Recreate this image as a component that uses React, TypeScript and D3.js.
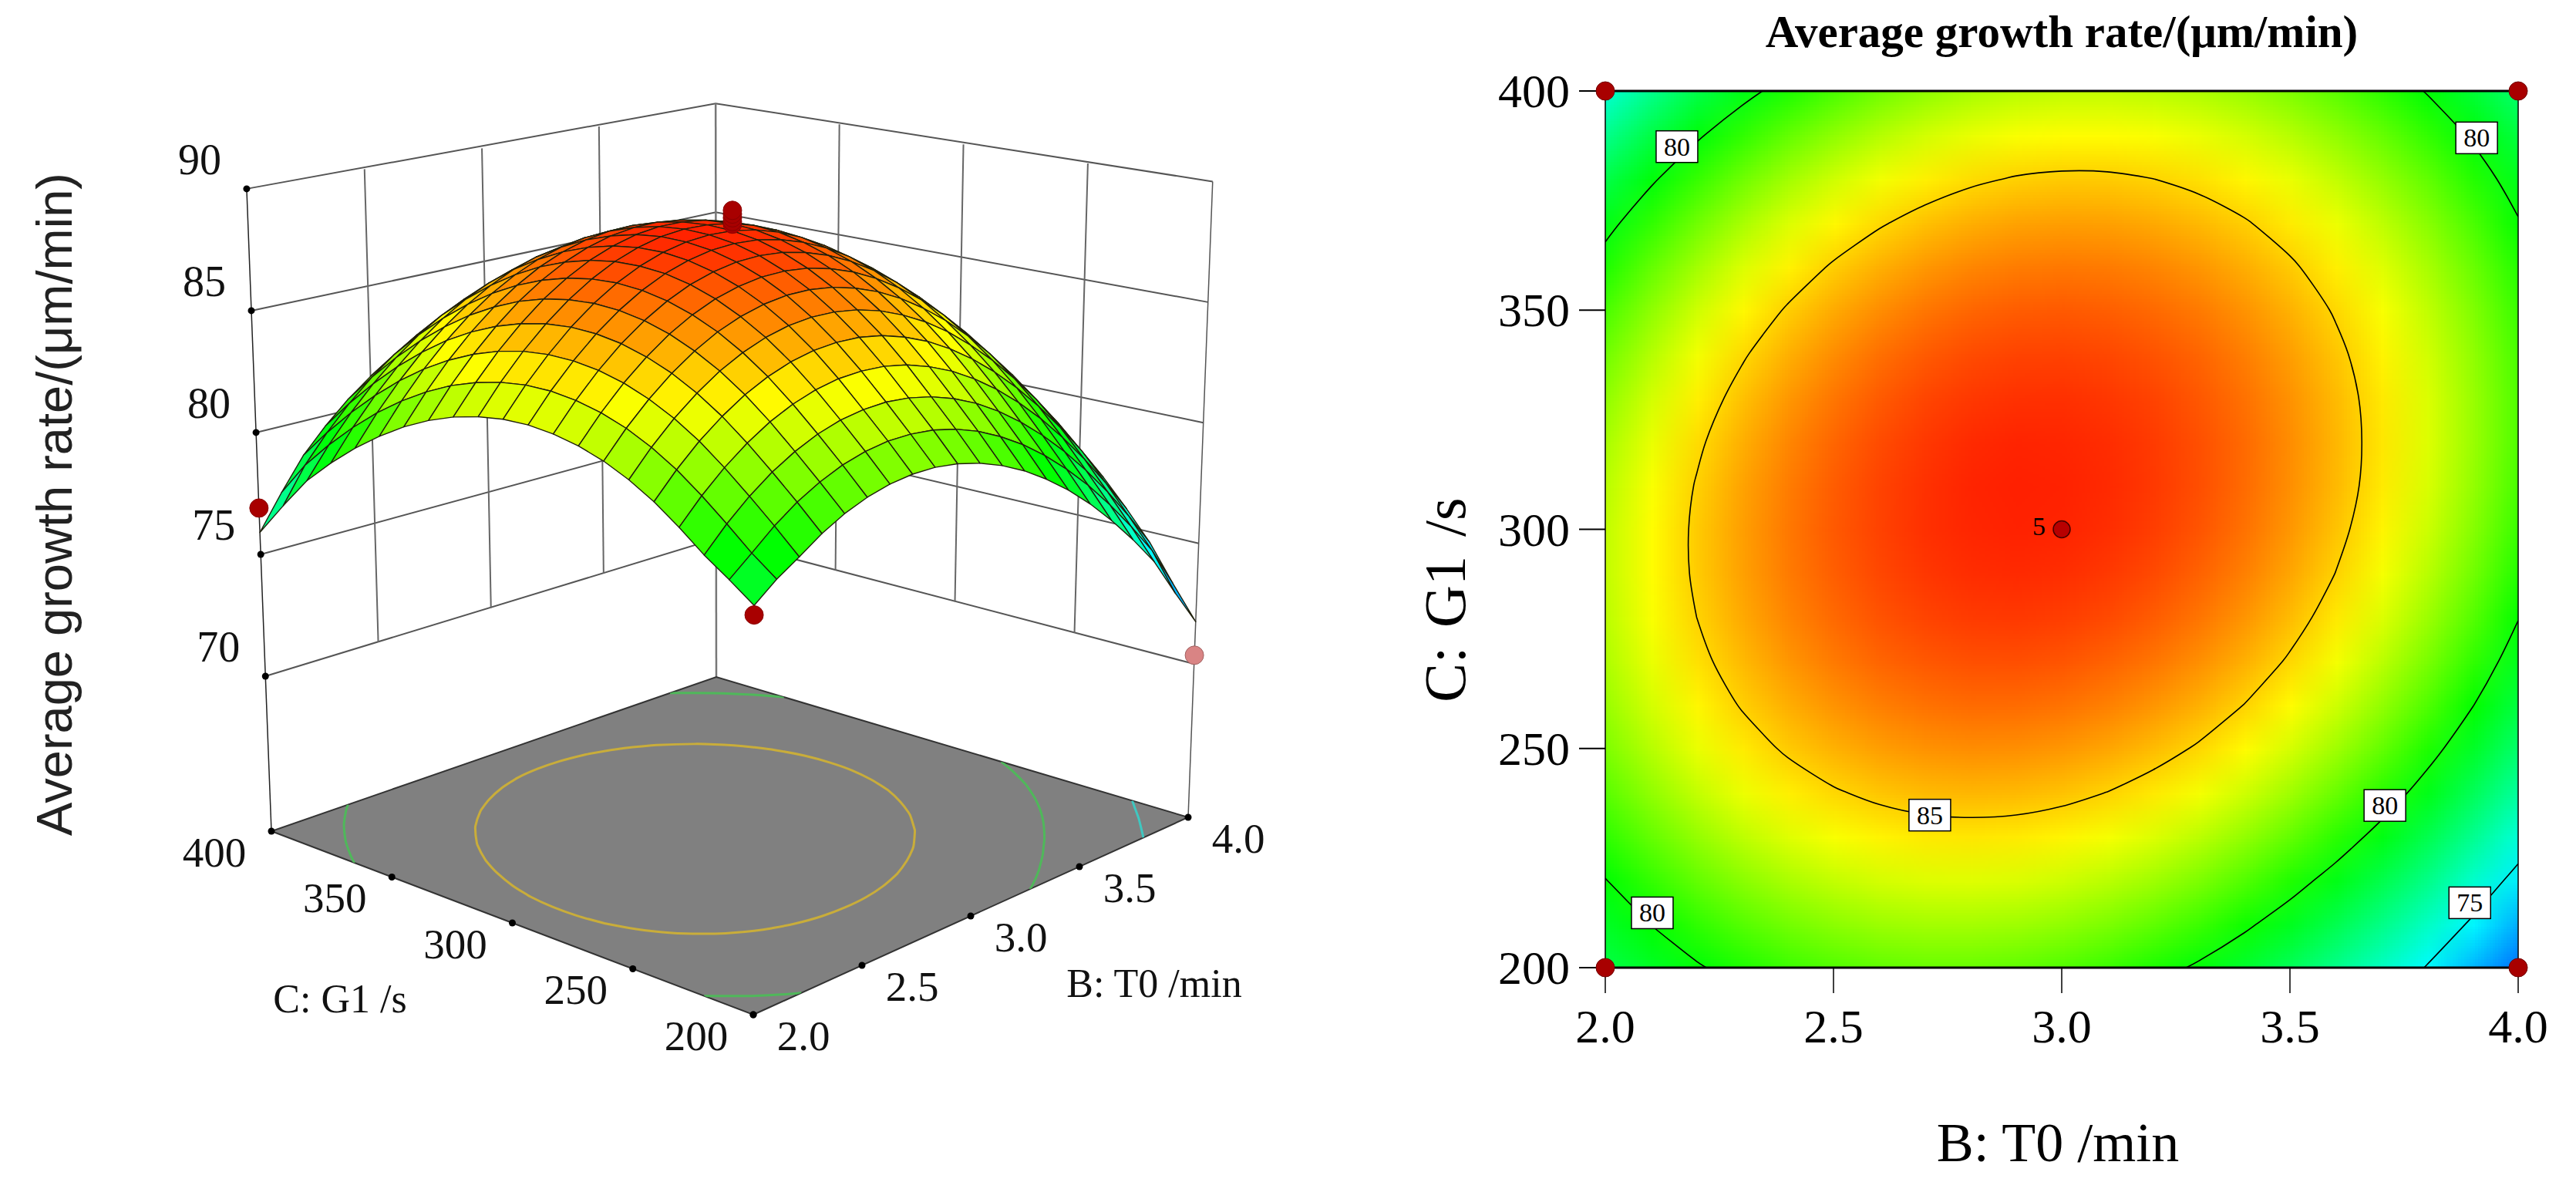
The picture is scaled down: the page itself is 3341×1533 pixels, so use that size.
import * as d3 from "d3";
import { useMemo } from "react";

// factor levels of the response surface grid
const bLevels = [2.0, 2.1, 2.2, 2.3, 2.4, 2.5, 2.6, 2.7, 2.8, 2.9, 3.0, 3.1, 3.2, 3.3, 3.4, 3.5, 3.6, 3.7, 3.8, 3.9, 4.0];
const cLevels = [200, 210, 220, 230, 240, 250, 260, 270, 280, 290, 300, 310, 320, 330, 340, 350, 360, 370, 380, 390, 400];

// average growth rate, one row per C level, one column per B level
const growthRate = [
  [78.60, 79.30, 79.87, 80.48, 80.97, 81.33, 81.57, 81.69, 81.69, 81.56, 81.31, 80.94, 80.45, 79.83, 79.10, 78.24, 77.25, 76.15, 74.92, 73.30, 71.75],
  [79.30, 80.02, 80.77, 81.40, 81.90, 82.29, 82.55, 82.69, 82.70, 82.60, 82.37, 82.02, 81.54, 80.95, 80.23, 79.39, 78.43, 77.34, 76.13, 74.80, 73.10],
  [79.97, 80.86, 81.63, 82.28, 82.80, 83.21, 83.49, 83.64, 83.68, 83.59, 83.38, 83.05, 82.60, 82.02, 81.32, 80.50, 79.56, 78.49, 77.31, 75.99, 74.56],
  [80.76, 81.67, 82.46, 83.13, 83.68, 84.10, 84.40, 84.58, 84.63, 84.57, 84.38, 84.06, 83.63, 83.07, 82.39, 81.59, 80.67, 79.62, 78.45, 77.16, 75.75],
  [81.48, 82.41, 83.22, 83.90, 84.47, 84.91, 85.23, 85.43, 85.50, 85.46, 85.29, 84.99, 84.58, 84.04, 83.38, 82.60, 81.70, 80.67, 79.52, 78.25, 76.86],
  [82.07, 83.02, 83.85, 84.55, 85.14, 85.60, 85.94, 86.16, 86.25, 86.22, 86.07, 85.80, 85.40, 84.89, 84.25, 83.48, 82.60, 81.59, 80.46, 79.21, 77.84],
  [82.54, 83.51, 84.35, 85.08, 85.68, 86.17, 86.52, 86.76, 86.88, 86.87, 86.74, 86.48, 86.11, 85.61, 84.99, 84.25, 83.38, 82.39, 81.28, 80.05, 78.70],
  [82.88, 83.87, 84.74, 85.48, 86.11, 86.61, 86.99, 87.24, 87.38, 87.39, 87.28, 87.04, 86.69, 86.21, 85.61, 84.89, 84.04, 83.07, 81.98, 80.77, 79.43],
  [83.10, 84.11, 85.00, 85.77, 86.41, 86.93, 87.33, 87.60, 87.76, 87.79, 87.70, 87.48, 87.15, 86.69, 86.11, 85.40, 84.58, 83.63, 82.56, 81.37, 80.05],
  [83.21, 84.24, 85.14, 85.93, 86.59, 87.13, 87.55, 87.84, 88.02, 88.07, 88.00, 87.80, 87.48, 87.04, 86.48, 85.80, 84.99, 84.06, 83.01, 81.84, 80.54],
  [83.19, 84.24, 85.16, 85.97, 86.65, 87.21, 87.64, 87.96, 88.15, 88.22, 88.17, 88.00, 87.70, 87.28, 86.74, 86.07, 85.28, 84.38, 83.34, 82.19, 80.91],
  [83.04, 84.11, 85.06, 85.88, 86.58, 87.16, 87.62, 87.95, 88.17, 88.26, 88.22, 88.07, 87.79, 87.39, 86.87, 86.22, 85.46, 84.57, 83.55, 82.42, 81.16],
  [82.78, 83.86, 84.83, 85.67, 86.40, 86.99, 87.47, 87.82, 88.06, 88.17, 88.15, 88.02, 87.76, 87.38, 86.88, 86.25, 85.50, 84.63, 83.64, 82.52, 81.29],
  [82.39, 83.50, 84.48, 85.34, 86.09, 86.70, 87.20, 87.57, 87.82, 87.95, 87.96, 87.84, 87.61, 87.24, 86.76, 86.16, 85.43, 84.58, 83.60, 82.51, 81.29],
  [81.88, 83.00, 84.01, 84.89, 85.65, 86.29, 86.81, 87.20, 87.47, 87.62, 87.64, 87.55, 87.33, 86.99, 86.52, 85.94, 85.23, 84.40, 83.45, 82.37, 81.17],
  [81.24, 82.39, 83.42, 84.32, 85.10, 85.76, 86.29, 86.70, 86.99, 87.16, 87.21, 87.13, 86.93, 86.61, 86.17, 85.60, 84.91, 84.10, 83.16, 82.11, 80.93],
  [80.49, 81.66, 82.70, 83.62, 84.42, 85.10, 85.65, 86.09, 86.40, 86.58, 86.65, 86.59, 86.41, 86.11, 85.68, 85.14, 84.47, 83.68, 82.76, 81.73, 80.57],
  [79.61, 80.80, 81.86, 82.80, 83.62, 84.32, 84.89, 85.34, 85.67, 85.88, 85.97, 85.93, 85.77, 85.48, 85.08, 84.55, 83.90, 83.13, 82.24, 81.22, 80.08],
  [78.61, 79.82, 80.90, 81.86, 82.70, 83.42, 84.01, 84.48, 84.83, 85.06, 85.16, 85.14, 85.00, 84.74, 84.35, 83.85, 83.22, 82.46, 81.59, 80.59, 79.47],
  [77.30, 78.71, 79.82, 80.80, 81.66, 82.39, 83.00, 83.50, 83.86, 84.11, 84.23, 84.24, 84.12, 83.87, 83.51, 83.02, 82.41, 81.68, 80.82, 79.84, 78.74],
  [75.90, 77.30, 78.61, 79.61, 80.49, 81.24, 81.88, 82.39, 82.78, 83.04, 83.19, 83.21, 83.10, 82.88, 82.53, 82.07, 81.48, 80.76, 79.93, 78.97, 77.89],
];

const bTicks = [2.0, 2.5, 3.0, 3.5, 4.0];
const cTicks = [200, 250, 300, 350, 400];
const zTicks = [70, 75, 80, 85, 90];
const contourLevels = [75, 80, 85];

// design points on the 3D plot
const pointB = [4, 2, 2, 4, 3, 3, 3, 3, 3];
const pointC = [400, 200, 400, 200, 300, 300, 300, 300, 300];
const pointZ = [77.5, 78.25, 76.9, 70.36, 88.44, 88.55, 88.7, 88.85, 89.0];

// labels sitting on the contour lines
const labelB = [2.157, 3.909, 2.711, 3.708, 2.103, 3.894];
const labelC = [387.3, 389.3, 234.8, 237, 212.5, 214.8];
const labelText = ["80", "80", "85", "80", "80", "75"];

const cornerB = [2, 4, 2, 4];
const cornerC = [200, 200, 400, 400];

const colorStops = [71.4, 75, 80, 84.2, 88.25];
const colorRange = ["#0060ff", "#00ffff", "#00ff00", "#ffff00", "#ff2000"];

const SERIF = "'Liberation Serif', serif";
const SANS = "'Liberation Sans', sans-serif";
const FLOOR_Z = 63.64;

const color = d3.scaleLinear<string>().domain(colorStops).range(colorRange).clamp(true);

// 3D plot: the floor ticks are evenly spaced so the floor is a bilinear quad,
// heights run towards a vertical vanishing point and grow towards the viewer
const floorFront = [977, 1316];
const floorRight = [1541, 1060];
const floorBack = [929, 878];
const floorLeft = [352, 1078];
const vanish = [946, 16500];
const kz = -0.0616;
const gU = 0.1535;
const gV = 0.1403;
const crown = 0.017;

const uOf = d3.scaleLinear().domain([2, 4]).range([0, 1]);
const vOf = d3.scaleLinear().domain([200, 400]).range([0, 1]);
const tOf = d3.scaleLinear().domain([FLOOR_Z, 90]).range([0, 1]);

function depth(u: number, v: number) {
  return gU * u + gV * v + 1;
}

function project(u: number, v: number, t: number): [number, number] {
  const mix = (k: number) =>
    floorFront[k] * (1 - u) * (1 - v) + floorRight[k] * u * (1 - v) + floorBack[k] * u * v + floorLeft[k] * (1 - u) * v;
  const fx = mix(0);
  const fy = mix(1);
  const s = ((kz * t) / depth(u, v)) * (1 + crown * 16 * u * (1 - u) * v * (1 - v));
  return [fx + (vanish[0] - fx) * s, fy + (vanish[1] - fy) * s];
}

const at = (b: number, c: number, z: number) => project(uOf(b), vOf(c), tOf(z));

const link = d3.line();
const closedCurve = d3.line().curve(d3.curveCatmullRomClosed);
const openCurve = d3.line().curve(d3.curveCatmullRom);

// 2D plot scales
const xScale = d3.scaleLinear().domain([2, 4]).range([2082, 3266]);
const yScale = d3.scaleLinear().domain([200, 400]).range([1255, 118]);

const flat = growthRate.flat();
const contours = d3.contours().size([21, 21]).smooth(true).thresholds(contourLevels)(flat);

// contour rings live in grid index space, pixel centres at i + .5
const toFloor = (x: number, y: number) => project((x - 0.5) / 20, (y - 0.5) / 20, 0);
const toPlot = (x: number, y: number): [number, number] => [xScale(2 + (x - 0.5) * 0.1), yScale(200 + (y - 0.5) * 10)];

const insideGrid = (p: number[]) => p[0] >= 0.49 && p[0] <= 20.51 && p[1] >= 0.49 && p[1] <= 20.51;

// drop the part of a ring that runs round the outside of the grid
function ringPath(ring: number[][], map: (x: number, y: number) => [number, number]) {
  const pts = ring.slice(0, -1);
  const firstOut = pts.findIndex((p) => !insideGrid(p));
  if (firstOut < 0) return closedCurve(pts.map((p) => map(p[0], p[1]))) ?? "";
  const rotated = [...pts.slice(firstOut), ...pts.slice(0, firstOut)];
  let d = "";
  let run: [number, number][] = [];
  [...rotated, rotated[0]].forEach((p) => {
    if (insideGrid(p)) {
      run.push(map(p[0], p[1]));
    } else {
      if (run.length > 1) d += openCurve(run);
      run = [];
    }
  });
  return d;
}

function ringsPath(multi: d3.ContourMultiPolygon, map: (x: number, y: number) => [number, number]) {
  return multi.coordinates.flat().map((ring) => ringPath(ring, map)).join("");
}

function heatmapUrl() {
  const canvas = document.createElement("canvas");
  canvas.width = 21;
  canvas.height = 21;
  const ctx = canvas.getContext("2d");
  if (!ctx) return "";
  growthRate.forEach((row, j) => {
    row.forEach((val, i) => {
      ctx.fillStyle = color(val);
      ctx.fillRect(i, 20 - j, 1, 1);
    });
  });
  return canvas.toDataURL();
}

const floorColors: Record<number, string> = { 75: "#3fc7c0", 80: "#4fb85a", 85: "#c9ad3a" };

const App = () => {
  const url = useMemo(heatmapUrl, []);

  // painter's order, far cells first
  const cells = useMemo(() => {
    const out: { d: string; fill: string; w: number }[] = [];
    for (let j = 0; j < 20; j++) {
      for (let i = 0; i < 20; i++) {
        const corners = [
          at(bLevels[i], cLevels[j], growthRate[j][i]),
          at(bLevels[i + 1], cLevels[j], growthRate[j][i + 1]),
          at(bLevels[i + 1], cLevels[j + 1], growthRate[j + 1][i + 1]),
          at(bLevels[i], cLevels[j + 1], growthRate[j + 1][i]),
        ];
        const mean = (growthRate[j][i] + growthRate[j][i + 1] + growthRate[j + 1][i + 1] + growthRate[j + 1][i]) / 4;
        out.push({
          d: link(corners) + "Z",
          fill: color(mean),
          w: depth(uOf(bLevels[i]) + 0.025, vOf(cLevels[j]) + 0.025),
        });
      }
    }
    return out.sort((p, q) => q.w - p.w);
  }, []);

  const floorD = link([at(2, 200, FLOOR_Z), at(4, 200, FLOOR_Z), at(4, 400, FLOOR_Z), at(2, 400, FLOOR_Z)]) + "Z";
  const halfX = (xScale(2.1) - xScale(2)) / 2;
  const halfY = (yScale(200) - yScale(210)) / 2;

  const pointIdx = pointB.map((_, i) => i);

  return (
    <svg width={3341} height={1533} style={{ position: "absolute", left: 0, top: 0, display: "block" }}>
      <defs>
        <clipPath id="floorClip"><path d={floorD} /></clipPath>
        <clipPath id="plotClip">
          <rect x={xScale(2)} y={yScale(400)} width={xScale(4) - xScale(2)} height={yScale(200) - yScale(400)} />
        </clipPath>
      </defs>
      <rect width={3341} height={1533} fill="#fff" />

      {/* walls of the 3D box */}
      {zTicks.map((z) => (
        <path key={z} d={link([at(2, 400, z), at(4, 400, z), at(4, 200, z)]) ?? ""} fill="none" stroke="#555" strokeWidth={2} />
      ))}
      {bTicks.slice(1, 4).map((b) => (
        <path key={b} d={link([at(b, 400, 90), at(b, 400, 70)]) ?? ""} stroke="#666" strokeWidth={2} />
      ))}
      {cTicks.slice(1, 4).map((c) => (
        <path key={c} d={link([at(4, c, 90), at(4, c, 70)]) ?? ""} stroke="#666" strokeWidth={2} />
      ))}
      <path d={link([at(4, 400, 90), at(4, 400, FLOOR_Z)]) ?? ""} stroke="#777" strokeWidth={2.5} />
      <path d={link([at(2, 400, 90), at(2, 400, FLOOR_Z)]) ?? ""} stroke="#222" strokeWidth={1.5} />
      <path d={link([at(4, 200, 90), at(4, 200, FLOOR_Z)]) ?? ""} stroke="#555" strokeWidth={1.5} />

      {/* floor and its contours */}
      <path d={floorD} fill="#808080" stroke="#333" strokeWidth={2} />
      <g clipPath="url(#floorClip)">
        {contours.map((c) => (
          <path key={c.value} d={ringsPath(c, toFloor)} fill="none" stroke={floorColors[c.value]} strokeWidth={3} />
        ))}
      </g>

      {/* point behind the surface */}
      {pointIdx.filter((i) => pointB[i] === 4 && pointC[i] === 400).map((i) => {
        const [x, y] = at(pointB[i], pointC[i], pointZ[i]);
        return <circle key={i} cx={x} cy={y} r={12} fill="#a80000" />;
      })}

      {/* surface */}
      {cells.map((c, i) => (
        <path key={i} d={c.d} fill={c.fill} stroke="#20200c" strokeWidth={1.4} strokeLinejoin="round" />
      ))}

      {/* axis ticks */}
      {zTicks.map((z) => {
        const [x, y] = at(2, 400, z);
        return (
          <g key={z}>
            <circle cx={x} cy={y} r={4.5} fill="#000" />
            <text x={x - 61} y={y - 32} fontFamily={SERIF} fontSize={56} textAnchor="middle" dominantBaseline="middle" fill="#111">{z}</text>
          </g>
        );
      })}
      {cTicks.map((c) => {
        const [x, y] = at(2, c, FLOOR_Z);
        return (
          <g key={c}>
            <circle cx={x} cy={y} r={4.5} fill="#000" />
            <text x={x - 74} y={y + 33} fontFamily={SERIF} fontSize={55} textAnchor="middle" dominantBaseline="middle" fill="#111">{c}</text>
          </g>
        );
      })}
      {bTicks.map((b) => {
        const [x, y] = at(b, 200, FLOOR_Z);
        return (
          <g key={b}>
            <circle cx={x} cy={y} r={4.5} fill="#000" />
            <text x={x + 65} y={y + 33} fontFamily={SERIF} fontSize={55} textAnchor="middle" dominantBaseline="middle" fill="#111">{b.toFixed(1)}</text>
          </g>
        );
      })}

      {/* design points */}
      {pointIdx.filter((i) => !(pointB[i] === 4 && pointC[i] === 400)).map((i) => {
        const [x, y] = at(pointB[i], pointC[i], pointZ[i]);
        const hidden = pointZ[i] < 72;
        return (
          <circle key={i} cx={x} cy={y} r={12} fill={hidden ? "#d98484" : "#a80000"} stroke={hidden ? "#a06060" : "#8a0000"} strokeWidth={1} />
        );
      })}

      <text transform="translate(93,654) rotate(-90)" fontFamily={SANS} fontSize={65} textAnchor="middle" fill="#222">
        Average growth rate/(μm/min)
      </text>
      <text x={441} y={1301} fontFamily={SERIF} fontSize={52} textAnchor="middle" dominantBaseline="middle" fill="#111">C: G1 /s</text>
      <text x={1497} y={1281} fontFamily={SERIF} fontSize={52} textAnchor="middle" dominantBaseline="middle" fill="#111">B: T0 /min</text>

      {/* contour panel */}
      <g clipPath="url(#plotClip)">
        <image
          href={url}
          x={xScale(2) - halfX}
          y={yScale(400) - halfY}
          width={xScale(4) - xScale(2) + 2 * halfX}
          height={yScale(200) - yScale(400) + 2 * halfY}
          preserveAspectRatio="none"
        />
        {contours.map((c) => (
          <path key={c.value} d={ringsPath(c, toPlot)} fill="none" stroke="#000" strokeWidth={1.6} />
        ))}
      </g>
      <path d={`M${xScale(2)},${yScale(400)}V${yScale(200)}M${xScale(4)},${yScale(400)}V${yScale(200)}`} stroke="#000" strokeWidth={1.5} fill="none" />
      <path d={`M${xScale(2)},${yScale(400)}H${xScale(4)}M${xScale(2)},${yScale(200)}H${xScale(4)}`} stroke="#000" strokeWidth={3} fill="none" />

      {labelText.map((t, i) => (
        <g key={i} transform={`translate(${xScale(labelB[i])},${yScale(labelC[i])})`}>
          <rect x={-27} y={-20.5} width={54} height={41} fill="#fff" stroke="#000" strokeWidth={1.5} />
          <text fontFamily={SERIF} fontSize={34} textAnchor="middle" dominantBaseline="central" fill="#000">{t}</text>
        </g>
      ))}

      {cTicks.map((c) => (
        <g key={c}>
          <line x1={xScale(2) - 34} x2={xScale(2)} y1={yScale(c)} y2={yScale(c)} stroke="#000" strokeWidth={2} />
          <text x={xScale(2) - 46} y={yScale(c)} fontFamily={SERIF} fontSize={62} textAnchor="end" dominantBaseline="central" fill="#000">{c}</text>
        </g>
      ))}
      {bTicks.map((b) => (
        <g key={b}>
          <line x1={xScale(b)} x2={xScale(b)} y1={yScale(200)} y2={yScale(200) + 33} stroke="#000" strokeWidth={1.5} />
          <text x={xScale(b)} y={1331} fontFamily={SERIF} fontSize={62} textAnchor="middle" dominantBaseline="central" fill="#000">{b.toFixed(1)}</text>
        </g>
      ))}

      {cornerB.map((b, i) => (
        <circle key={i} cx={xScale(b)} cy={yScale(cornerC[i])} r={12} fill="#a80000" stroke="#700000" strokeWidth={1} />
      ))}
      <circle cx={xScale(3)} cy={yScale(300)} r={11} fill="#b80000" stroke="#400" strokeWidth={1.5} />
      <text x={xScale(3) - 38} y={yScale(300) - 4} fontFamily={SERIF} fontSize={34} dominantBaseline="central" fill="#000">5</text>

      <text x={2674} y={61} fontFamily={SERIF} fontWeight="bold" fontSize={59} textAnchor="middle" fill="#000">
        Average growth rate/(μm/min)
      </text>
      <text x={2669} y={1482} fontFamily={SERIF} fontSize={72} textAnchor="middle" dominantBaseline="central" fill="#000">B: T0 /min</text>
      <text transform="translate(1874,778) rotate(-90)" fontFamily={SERIF} fontSize={76} textAnchor="middle" dominantBaseline="central" fill="#000" wordSpacing={6}>
        C: G1 /s
      </text>
    </svg>
  );
};

export default App;
